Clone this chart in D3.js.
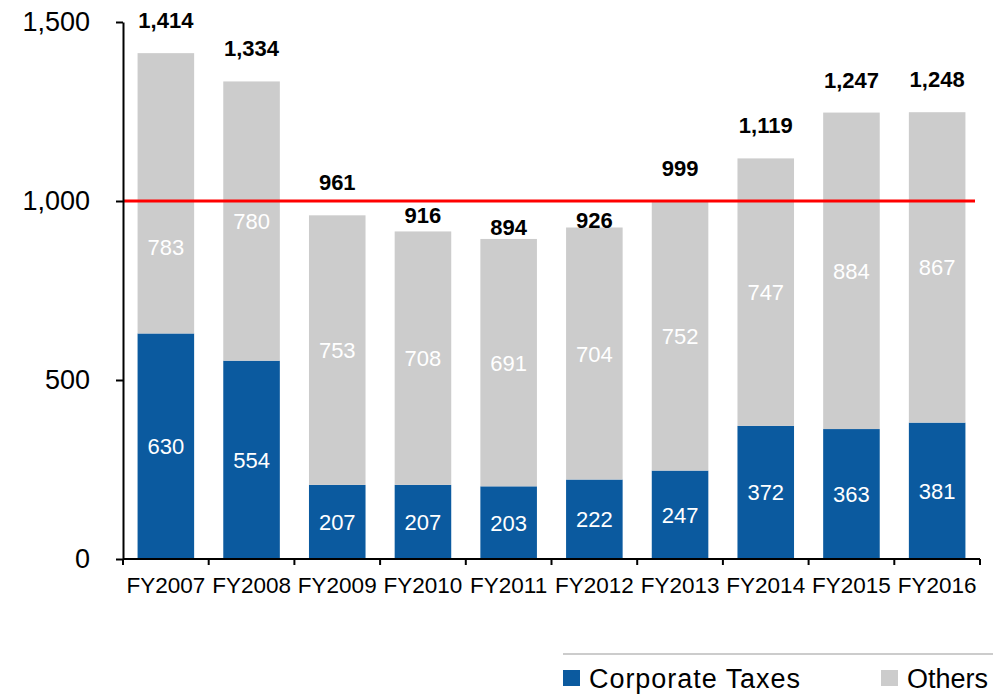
<!DOCTYPE html>
<html>
<head>
<meta charset="utf-8">
<script src="https://cdn.jsdelivr.net/npm/d3@7"></script>
<style>
  body { margin: 0; background: #fff; }
  svg { display: block; font-family: Arial, "Liberation Sans", sans-serif; }
</style>
</head>
<body>
<script>
const years = ['FY2007', 'FY2008', 'FY2009', 'FY2010', 'FY2011', 'FY2012', 'FY2013', 'FY2014', 'FY2015', 'FY2016']
const corporate = [630, 554, 207, 207, 203, 222, 247, 372, 363, 381]
const others = [783, 780, 753, 708, 691, 704, 752, 747, 884, 867]
const totals = [1414, 1334, 961, 916, 894, 926, 999, 1119, 1247, 1248]
const yTicks = [0, 500, 1000, 1500]
const refLine = 1000

const width = 1001
const height = 696
const blue = '#0b5a9f'
const gray = '#cccccc'

// labels nudged by hand in the original, to keep clear of the red line
const otherNudge = {0: 54}
const totalNudge = {3: 17, 4: 21, 5: 26}

const svg = d3.select('body').append('svg').attr('width', width).attr('height', height)

const x = d3.scaleBand().domain(years).range([123, 980]).paddingInner(0.34).paddingOuter(0.17)
const y = d3.scaleLinear().domain([0, 1500]).range([559, 22])
const edge = d3.scaleLinear().domain([0, years.length]).range([123, 980])

const rows = years.map((d, i) => ({year: d, corp: corporate[i], other: others[i], total: totals[i]}))

// stacked bars
svg.selectAll('rect.corp').data(rows).enter().append('rect')
	.attr('x', d => x(d.year)).attr('width', x.bandwidth())
	.attr('y', d => y(d.corp)).attr('height', d => y(0) - y(d.corp))
	.attr('fill', blue)

svg.selectAll('rect.other').data(rows).enter().append('rect')
	.attr('x', d => x(d.year)).attr('width', x.bandwidth())
	.attr('y', d => y(d.corp + d.other)).attr('height', d => y(d.corp) - y(d.corp + d.other))
	.attr('fill', gray)

// reference line at 1,000
svg.append('line')
	.attr('x1', 123).attr('x2', 975)
	.attr('y1', y(refLine)).attr('y2', y(refLine))
	.attr('stroke', '#ff0000').attr('stroke-width', 3)

// segment labels
svg.selectAll('text.corp').data(rows).enter().append('text')
	.attr('x', d => x(d.year) + x.bandwidth() / 2)
	.attr('y', d => (y(0) + y(d.corp)) / 2 + 8)
	.attr('text-anchor', 'middle').attr('fill', '#fff').attr('font-size', 22)
	.text(d => d.corp)

svg.selectAll('text.other').data(rows).enter().append('text')
	.attr('x', d => x(d.year) + x.bandwidth() / 2)
	.attr('y', (d, i) => (y(d.corp) + y(d.corp + d.other)) / 2 + 8 + (otherNudge[i] || 0))
	.attr('text-anchor', 'middle').attr('fill', '#fff').attr('font-size', 22)
	.text(d => d.other)

// totals
svg.selectAll('text.total').data(rows).enter().append('text')
	.attr('x', d => x(d.year) + x.bandwidth() / 2)
	.attr('y', (d, i) => y(d.total) - 25 + (totalNudge[i] || 0))
	.attr('text-anchor', 'middle').attr('fill', '#000').attr('font-size', 22).attr('font-weight', 'bold')
	.text(d => d3.format(',')(d.total))

// y axis
const yAxis = svg.append('g').attr('transform', 'translate(123,0)')
	.call(d3.axisLeft(y).tickValues(yTicks).tickFormat(d3.format(',')).tickSize(7).tickSizeOuter(0).tickPadding(26))
yAxis.select('.domain').attr('stroke', '#000').attr('stroke-width', 2)
yAxis.selectAll('.tick line').attr('stroke', '#000').attr('stroke-width', 2)
yAxis.selectAll('.tick text').attr('font-size', 27).attr('fill', '#000').attr('font-family', 'Arial, "Liberation Sans", sans-serif')

// x axis
const xAxis = svg.append('g').attr('transform', 'translate(0,559)')
	.call(d3.axisBottom(x).tickSize(0).tickPadding(18))
xAxis.select('.domain').remove()
xAxis.selectAll('.tick text').attr('font-size', 22.5).attr('fill', '#000').attr('font-family', 'Arial, "Liberation Sans", sans-serif')
xAxis.append('line').attr('x1', 123).attr('x2', 980).attr('stroke', '#000').attr('stroke-width', 2)
xAxis.selectAll('line.edge').data(d3.range(years.length + 1)).enter().append('line')
	.attr('x1', d => edge(d)).attr('x2', d => edge(d))
	.attr('y1', 0).attr('y2', 6)
	.attr('stroke', '#000').attr('stroke-width', 2)

// legend
svg.append('line').attr('x1', 563).attr('x2', 993).attr('y1', 654).attr('y2', 654)
	.attr('stroke', gray).attr('stroke-width', 2)
const legendItems = [{label: 'Corporate Taxes', color: blue, x: 563, w: 211}, {label: 'Others', color: gray, x: 881, w: 81}]
const lg = svg.selectAll('g.legend').data(legendItems).enter().append('g')
	.attr('transform', d => 'translate(' + d.x + ',670)')
lg.append('rect').attr('width', 17).attr('height', 16).attr('fill', d => d.color)
lg.append('text').attr('x', 26).attr('y', 18).attr('font-size', 27).attr('fill', '#000')
	.attr('textLength', d => d.w).attr('lengthAdjust', 'spacing')
	.text(d => d.label)
</script>
</body>
</html>
